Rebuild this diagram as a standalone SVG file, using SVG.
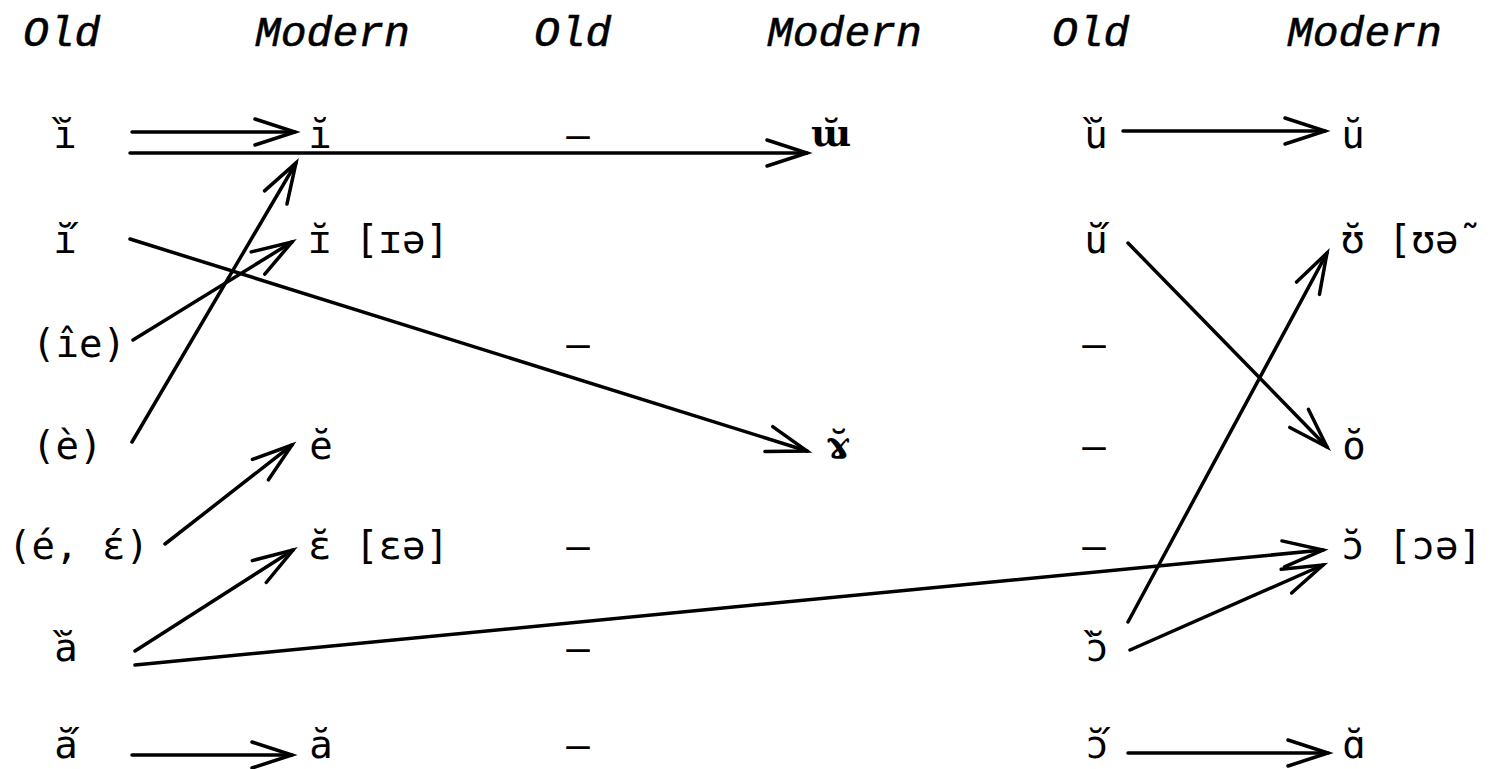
<svg xmlns="http://www.w3.org/2000/svg" width="1510" height="769" viewBox="0 0 1510 769">
<style>
.hd{font-family:"Liberation Mono",monospace;font-style:italic;font-size:43px;fill:#000;stroke:#000;stroke-width:0.6}
.t{font-family:"DejaVu Sans Mono",monospace;font-size:39px;fill:#000}
.s{font-family:"DejaVu Serif",serif;font-weight:bold;font-size:38px;fill:#000}
.tk{letter-spacing:-16.5px}
.c{text-anchor:middle}
.ln{fill:none;stroke:#000;stroke-width:3.5;stroke-linecap:round}
</style>
<defs>
<marker id="ah" markerUnits="userSpaceOnUse" markerWidth="60" markerHeight="40" viewBox="-50 -20 60 40" refX="0" refY="0" orient="auto" overflow="visible">
<path d="M-40,-13 L0,0 L-40,13" fill="none" stroke="#000" stroke-width="3.5" stroke-linecap="round" stroke-linejoin="miter"/>
</marker>
</defs>
<rect width="1510" height="769" fill="#fff"/>
<g id="headers">
<text class="hd" x="23" y="46">Old</text>
<text class="hd" x="255" y="46">Modern</text>
<text class="hd" x="534" y="46">Old</text>
<text class="hd" x="767" y="46">Modern</text>
<text class="hd" x="1052" y="46">Old</text>
<text class="hd" x="1287" y="46">Modern</text>
</g>
<g id="col1">
<g id="o-i1"><text class="t tk" x="46.3" y="148">`&#x12D;</text></g>
<g id="o-i2"><text class="t tk" x="53.3" y="253">&#x12D;&#xB4;</text></g>
<g id="o-ie"><text class="t" x="32" y="357">(&#xEE;e)</text></g>
<g id="o-e-grave"><text class="t" x="32" y="459">(&#xE8;)</text></g>
<g id="o-e-acute"><text class="t" x="8" y="559">(&#xE9;, &#x25B;&#x301;)</text></g>
<g id="o-a1"><text class="t tk" x="47.3" y="661">`&#x103;</text></g>
<g id="o-a2"><text class="t tk" x="54.3" y="758">&#x103;&#xB4;</text></g>
</g>
<g id="col2">
<g id="m-i1"><text class="t c" x="320" y="148">&#x12D;</text></g>
<g id="m-i2"><text class="t" x="308" y="253">&#x26A;&#x306; [&#x26A;&#x259;]</text></g>
<g id="m-e"><text class="t c" x="321" y="459">&#x115;</text></g>
<g id="m-eps"><text class="t" x="308" y="559">&#x25B;&#x306; [&#x25B;&#x259;]</text></g>
<g id="m-a"><text class="t c" x="321" y="758">&#x103;</text></g>
</g>
<g id="col3">
<text class="t c" x="578" y="148">&#x2013;</text>
<text class="t c" x="578" y="357">&#x2013;</text>
<text class="t c" x="578" y="559">&#x2013;</text>
<text class="t c" x="578" y="661">&#x2013;</text>
<text class="t c" x="578" y="758">&#x2013;</text>
</g>
<g id="col4">
<g id="m-w"><text class="s c" x="831" y="146">&#x26F;&#x306;</text></g>
<g id="m-gamma"><text class="s c" x="838" y="457">&#x264;&#x306;</text></g>
</g>
<g id="col5">
<g id="o-u1"><text class="t tk" x="1077.3" y="148">`&#x16D;</text></g>
<g id="o-u2"><text class="t tk" x="1084.3" y="253">&#x16D;&#xB4;</text></g>
<text class="t c" x="1094" y="357">&#x2013;</text>
<text class="t c" x="1094" y="459">&#x2013;</text>
<text class="t c" x="1094" y="559">&#x2013;</text>
<g id="o-o1"><text class="t tk" x="1078.3" y="661">`&#x254;&#x306;</text></g>
<g id="o-o2"><text class="t tk" x="1085.3" y="758">&#x254;&#x306;&#xB4;</text></g>
</g>
<g id="col6">
<g id="m-u"><text class="t c" x="1353" y="148">&#x16D;</text></g>
<g id="m-upsilon"><text class="t" x="1341" y="253">&#x28A;&#x306; [&#x28A;&#x259;&#x2DC;</text></g>
<g id="m-o"><text class="t c" x="1354" y="459">&#x14F;</text></g>
<g id="m-open-o"><text class="t" x="1341" y="559">&#x254;&#x306; [&#x254;&#x259;]</text></g>
<g id="m-alpha"><text class="t c" x="1354" y="758">&#x251;&#x306;</text></g>
</g>
<g id="connectors">
<path class="ln" marker-end="url(#ah)" d="M132,132 L295,132"/>
<path class="ln" marker-end="url(#ah)" d="M130,153 L807,153"/>
<path class="ln" marker-end="url(#ah)" d="M132,442 L296,163"/>
<path class="ln" marker-end="url(#ah)" d="M133,340 L292,242"/>
<path class="ln" marker-end="url(#ah)" d="M130,239 L807,451"/>
<path class="ln" marker-end="url(#ah)" d="M165,544 L292,445"/>
<path class="ln" marker-end="url(#ah)" d="M135,651 L293,550"/>
<path class="ln" marker-end="url(#ah)" d="M135,665 L1323,550"/>
<path class="ln" marker-end="url(#ah)" d="M1130,650 L1323,565"/>
<path class="ln" marker-end="url(#ah)" d="M1128,622 L1327,253"/>
<path class="ln" marker-end="url(#ah)" d="M1128,243 L1327,447"/>
<path class="ln" marker-end="url(#ah)" d="M1123,131 L1325,131"/>
<path class="ln" marker-end="url(#ah)" d="M1128,753 L1328,753"/>
<path class="ln" marker-end="url(#ah)" d="M132,755 L292,755"/>
</g>
</svg>
